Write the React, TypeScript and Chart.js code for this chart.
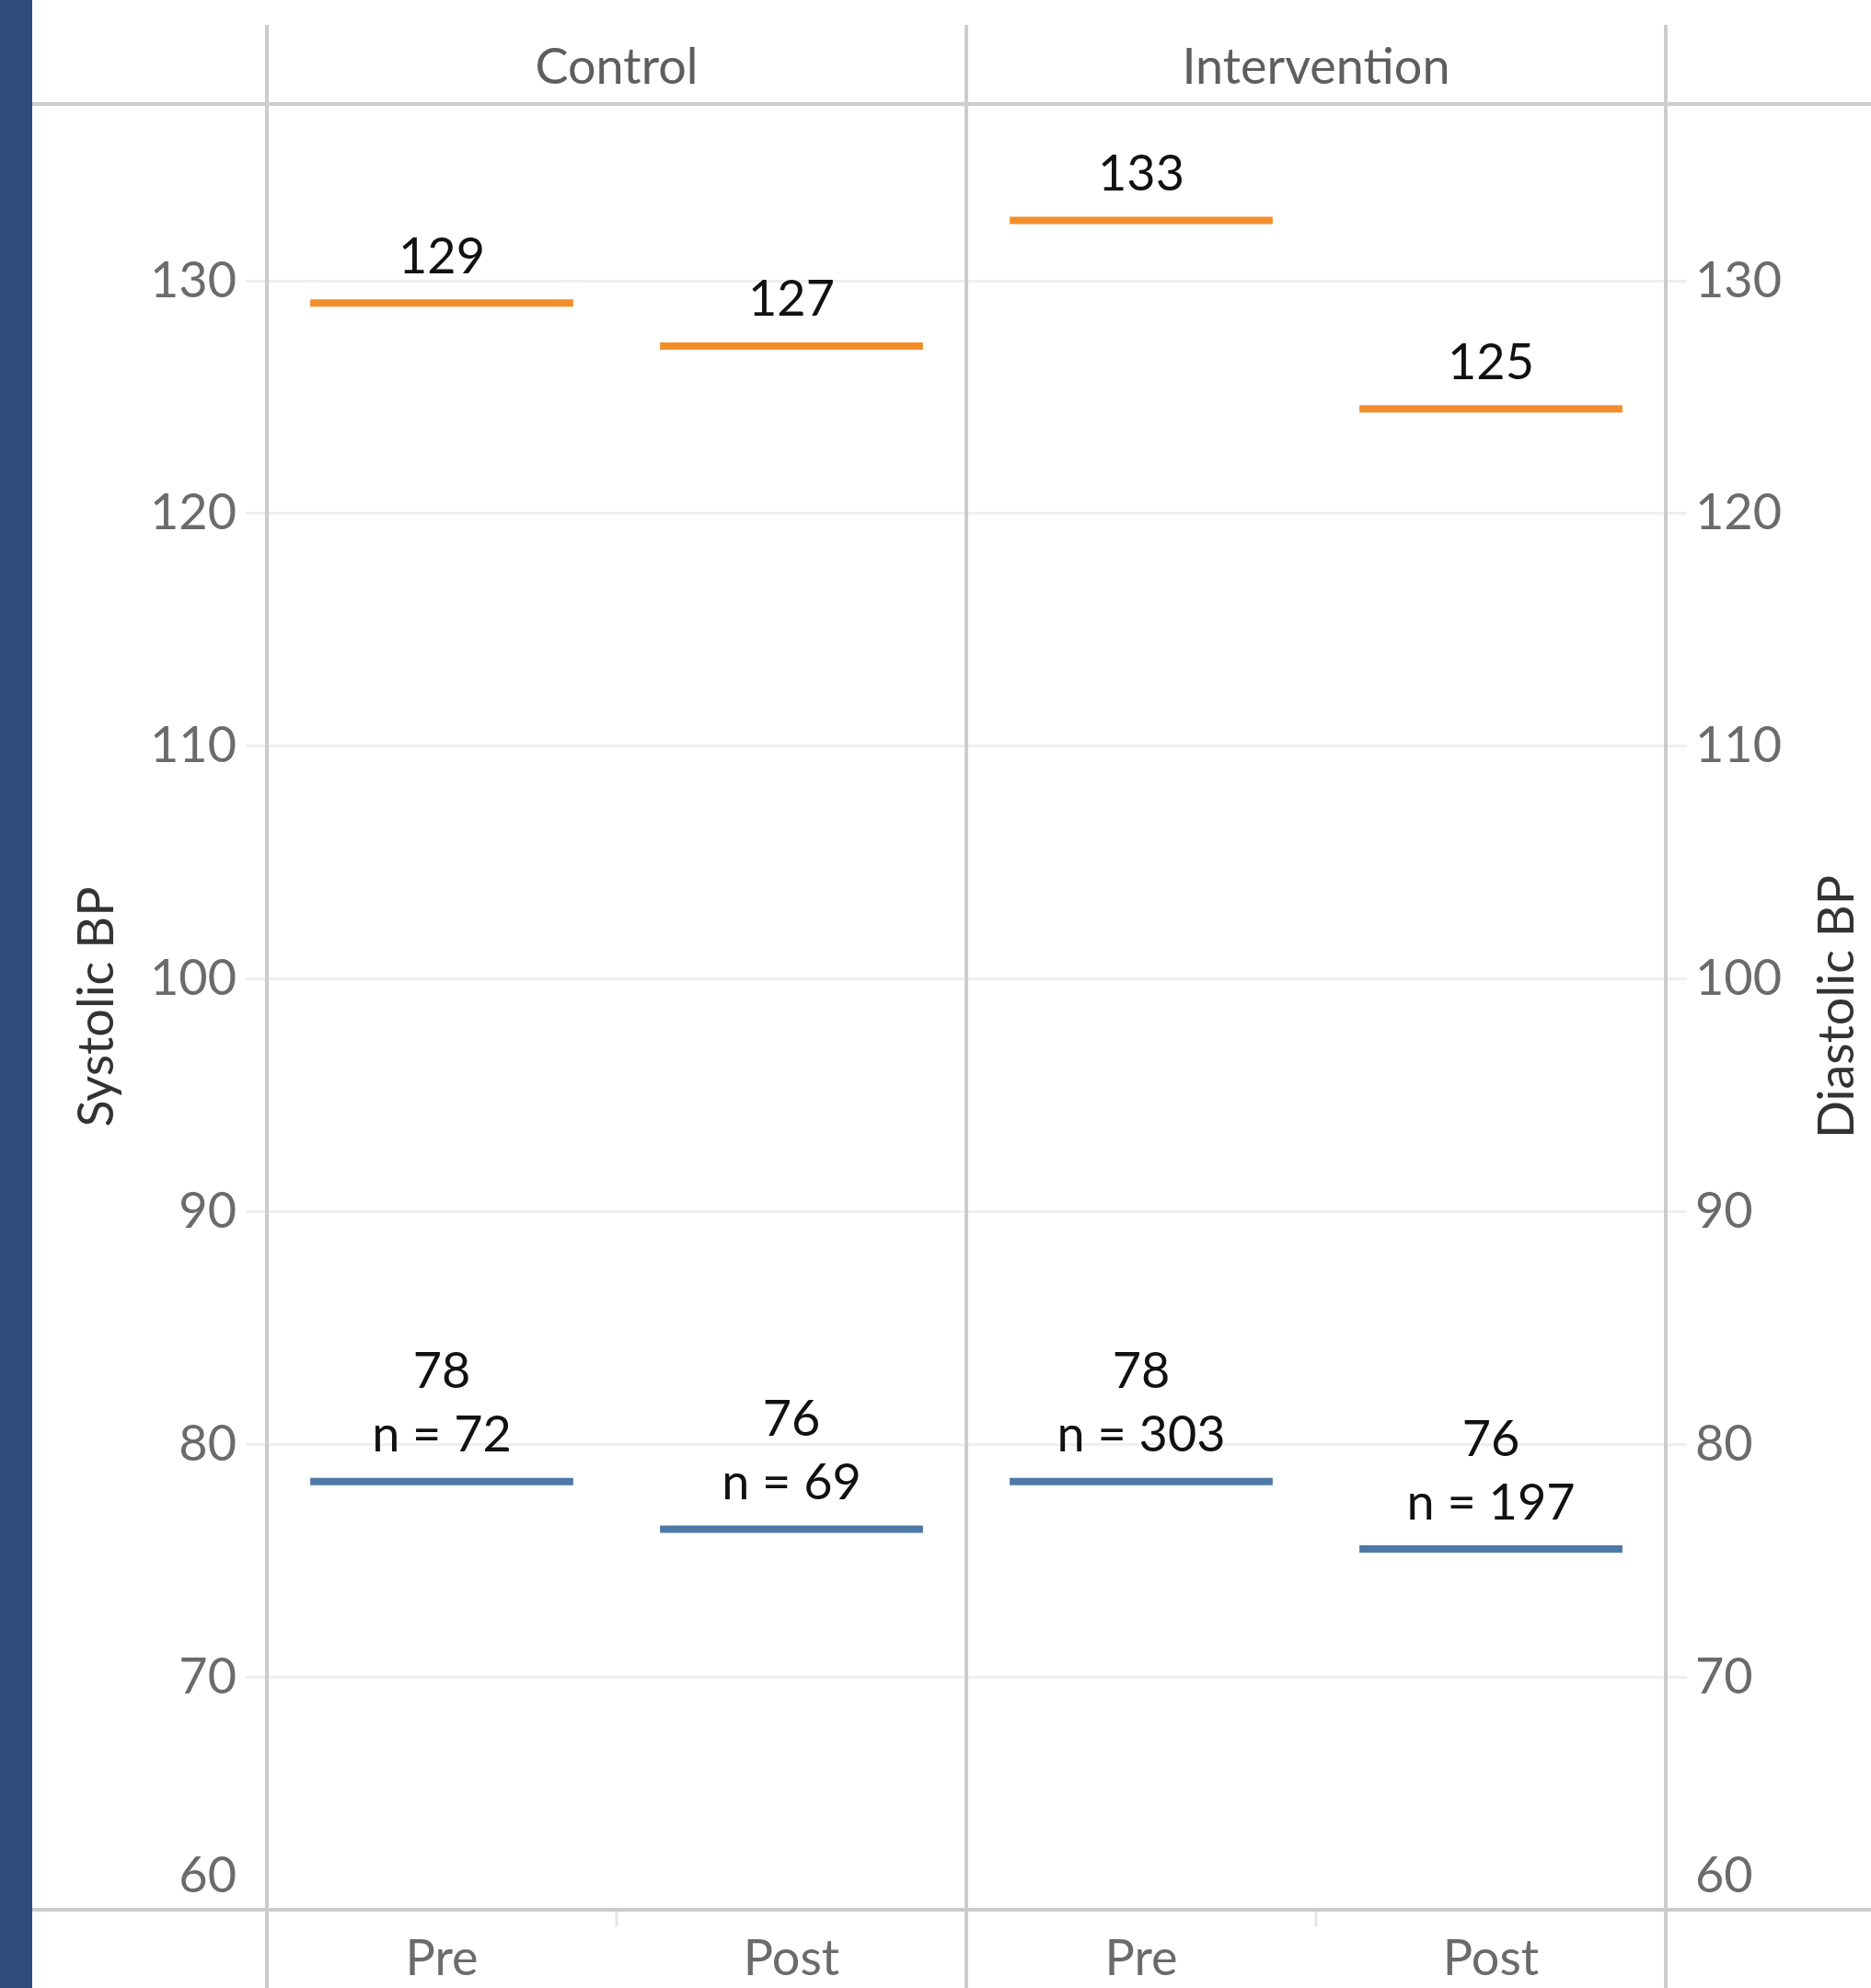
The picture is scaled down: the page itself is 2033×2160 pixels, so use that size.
import React, { useEffect, useRef } from 'react';
import { Chart, registerables } from 'chart.js';

Chart.register(...registerables);

// Panels (column groups) and the phase of each measurement column
const groups = ['Control', 'Intervention'];
const phases = ['Pre', 'Post', 'Pre', 'Post'];

// Mean blood pressure per column (mmHg)
const systolic = [129.05, 127.2, 132.6, 124.5];
const diastolic = [78.4, 76.35, 78.4, 75.5];
const sampleSizes = [72, 69, 303, 197];

// Shared value axis for both measures
const axisMin = 60;
const axisMax = 137.6;
const axisStep = 10;

const FONT_FAMILY = 'Lato, "Open Sans", sans-serif';
const ORANGE = '#f28e2b';
const BLUE = '#4e79a7';
const NAVY = '#304c7e';
const FRAME = '#cccccc';
const GRID = '#efefef';
const TICK_TEXT = '#6b6b6b';

const W = 2033;
const H = 2160;

const framePlugin = {
  id: 'frame',
  beforeDraw(chart: any) {
    const { ctx } = chart;
    ctx.save();
    ctx.fillStyle = '#ffffff';
    ctx.fillRect(0, 0, chart.width, chart.height);
    ctx.fillStyle = NAVY;
    ctx.fillRect(0, 0, 35, chart.height);
    ctx.restore();
  },
  beforeDatasetsDraw(chart: any) {
    const { ctx, chartArea } = chart;
    const x = chart.scales.x;
    const mid = (x.getPixelForValue(1) + x.getPixelForValue(2)) / 2;
    const bounds = [chartArea.left, mid, chartArea.right];
    ctx.save();
    ctx.strokeStyle = FRAME;
    ctx.lineWidth = 4;
    // header rule and bottom rule
    ctx.beginPath();
    ctx.moveTo(35, chartArea.top);
    ctx.lineTo(chart.width, chartArea.top);
    ctx.moveTo(35, chartArea.bottom);
    ctx.lineTo(chart.width, chartArea.bottom);
    ctx.stroke();
    // panel separators
    ctx.beginPath();
    bounds.forEach((bx) => {
      ctx.moveTo(bx, 27);
      ctx.lineTo(bx, chart.height);
    });
    ctx.stroke();
    // small ticks between Pre and Post inside each panel
    ctx.strokeStyle = '#e6e6e6';
    ctx.lineWidth = 3;
    ctx.beginPath();
    [0, 2].forEach((i) => {
      const tx = (x.getPixelForValue(i) + x.getPixelForValue(i + 1)) / 2;
      ctx.moveTo(tx, chartArea.bottom + 2);
      ctx.lineTo(tx, chartArea.bottom + 18);
    });
    ctx.stroke();

    // panel headers
    ctx.fillStyle = '#5e5e5e';
    ctx.font = `54px ${FONT_FAMILY}`;
    ctx.textAlign = 'center';
    ctx.textBaseline = 'middle';
    groups.forEach((g, gi) => {
      const cx = (bounds[gi] + bounds[gi + 1]) / 2;
      ctx.fillText(g, cx, 74);
    });

    // right axis title, reading bottom to top
    ctx.fillStyle = '#333333';
    ctx.translate(1997, (chartArea.top + chartArea.bottom) / 2);
    ctx.rotate(-Math.PI / 2);
    ctx.fillText('Diastolic BP', 0, 0);
    ctx.restore();
  },
  afterDatasetsDraw(chart: any) {
    const { ctx } = chart;
    ctx.save();
    ctx.fillStyle = '#111111';
    ctx.font = `54px ${FONT_FAMILY}`;
    ctx.textAlign = 'center';
    ctx.textBaseline = 'middle';
    chart.data.datasets.forEach((ds: any, di: number) => {
      const meta = chart.getDatasetMeta(di);
      meta.data.forEach((el: any, i: number) => {
        const v = ds.data[i] as number;
        const lines = di === 0
          ? [String(Math.round(v))]
          : [String(Math.round(v)), `n = ${sampleSizes[i]}`];
        lines.forEach((t, li) => {
          const y = el.y - 50 - (lines.length - 1 - li) * 69;
          ctx.fillText(t, el.x, y);
        });
      });
    });
    ctx.restore();
  },
};

const segmentRadius = (ctx: any) => {
  const area = ctx.chart.chartArea;
  return area ? (area.width / phases.length) * 0.376 : 0;
};

const tickFont = { family: FONT_FAMILY, size: 54, lineHeight: 1.35 };

export default function App() {
  const canvasRef = useRef<HTMLCanvasElement>(null);

  useEffect(() => {
    if (!canvasRef.current) return;
    const chart = new Chart(canvasRef.current, {
      type: 'line',
      data: {
        labels: phases,
        datasets: [
          {
            label: 'Systolic BP',
            data: systolic,
            yAxisID: 'y',
            showLine: false,
            pointStyle: 'line',
            pointRadius: segmentRadius,
            pointBorderWidth: 8,
            pointBorderColor: ORANGE,
            pointBackgroundColor: ORANGE,
            borderColor: ORANGE,
          },
          {
            label: 'Diastolic BP',
            data: diastolic,
            yAxisID: 'y2',
            showLine: false,
            pointStyle: 'line',
            pointRadius: segmentRadius,
            pointBorderWidth: 8,
            pointBorderColor: BLUE,
            pointBackgroundColor: BLUE,
            borderColor: BLUE,
          },
        ],
      },
      options: {
        responsive: false,
        animation: false,
        events: [],
        devicePixelRatio: 1,
        layout: { padding: { top: 113, left: 0, right: 0, bottom: 0 } },
        plugins: {
          legend: { display: false },
          tooltip: { enabled: false },
          title: { display: false },
        },
        scales: {
          x: {
            type: 'category',
            offset: true,
            grid: { display: false, drawTicks: false },
            border: { display: false },
            ticks: {
              font: { family: FONT_FAMILY, size: 54, lineHeight: 1.2 },
              color: TICK_TEXT,
              padding: 21,
              maxRotation: 0,
              autoSkip: false,
            },
            afterFit: (s: any) => {
              s.height = 85;
            },
          },
          y: {
            position: 'left',
            min: axisMin,
            max: axisMax,
            grid: { color: GRID, lineWidth: 3, tickLength: 23, drawTicks: true, tickColor: GRID },
            border: { display: false },
            ticks: {
              stepSize: axisStep,
              includeBounds: false,
              padding: 10,
              font: tickFont,
              color: TICK_TEXT,
              callback: (v: any) => (v === axisMin ? [String(v), ''] : String(v)),
            },
            title: {
              display: true,
              text: 'Systolic BP',
              color: '#333333',
              font: { family: FONT_FAMILY, size: 54, lineHeight: 1.2 },
              padding: { top: 73, bottom: 0 },
            },
            afterFit: (s: any) => {
              s.width = 290;
            },
          },
          y2: {
            position: 'right',
            min: axisMin,
            max: axisMax,
            grid: { drawOnChartArea: false, color: GRID, lineWidth: 3, tickLength: 23, drawTicks: true, tickColor: GRID },
            border: { display: false },
            ticks: {
              stepSize: axisStep,
              includeBounds: false,
              padding: 9,
              font: tickFont,
              color: TICK_TEXT,
              callback: (v: any) => (v === axisMin ? [String(v), ''] : String(v)),
            },
            afterFit: (s: any) => {
              s.width = W - 1810;
            },
          },
        },
      },
      plugins: [framePlugin],
    } as any);
    return () => chart.destroy();
  }, []);

  return (
    <div style={{ position: 'absolute', left: 0, top: 0, width: W, height: H, background: '#ffffff' }}>
      <canvas ref={canvasRef} width={W} height={H} style={{ display: 'block', width: W, height: H }} />
    </div>
  );
}
